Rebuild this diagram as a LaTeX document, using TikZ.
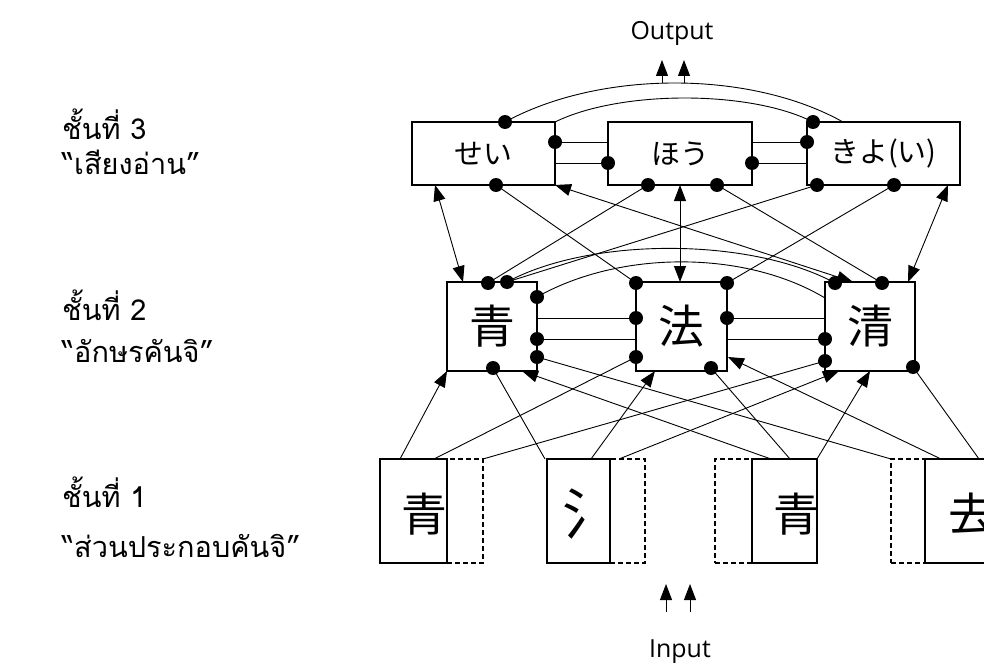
\documentclass[tikz,border=0pt]{standalone}
\usepackage{fontspec}
\newfontfamily\cjk{Noto Sans CJK JP}
\newfontfamily\thaifont[Script=Thai]{Loma}
\newfontfamily\latinsans{Open Sans}
\usetikzlibrary{arrows.meta}
\begin{document}
\begin{tikzpicture}[x=1bp,y=-1bp,
  box/.style={draw, line width=1.6bp, inner sep=0pt},
  dbox/.style={draw, line width=1.4bp, dash pattern=on 5bp off 3bp, inner sep=0pt},
  dot/.style={circle, fill=black, inner sep=0pt, minimum size=14bp},
  link/.style={line width=0.9bp},
  exc/.style={link, -{Triangle[length=16bp,width=12bp]}},
  bexc/.style={link, {Triangle[length=16bp,width=12bp]}-{Triangle[length=16bp,width=12bp]}},
  lbl/.style={anchor=base west, inner sep=0pt, font=\thaifont\fontsize{29}{32}\selectfont},
  kana/.style={font=\cjk\fontsize{29}{31}\selectfont},
  kanji/.style={font=\cjk\fontsize{46}{50}\selectfont},
  io/.style={anchor=base, inner sep=0pt, font=\latinsans\fontsize{25}{30}\selectfont}]
\useasboundingbox (0,0) rectangle (984,666);
\clip (0,0) rectangle (984,666);

% ---------- labels ----------
\node[lbl] (l3a) at (62,140) {ชั้นที่ 3};
\node[lbl] (l3b) at (62,175) {“เสียงอ่าน”};
\node[lbl] (l2a) at (62,320) {ชั้นที่ 2};
\node[lbl] (l2b) at (62,362) {“อักษรคันจิ”};
\node[lbl] (l1a) at (62,507) {ชั้นที่ 1};
\node[lbl] (l1b) at (62,557) {“ส่วนประกอบคันจิ”};
\node[io] (out) at (672,40) {Output};
\node[io] (inp) at (680,657) {Input};

% ---------- layer 3 ----------
\node[box, kana, minimum width=143bp, minimum height=63bp] (sei) at (483.5,153.5) {せい};
\node[box, kana, minimum width=144bp, minimum height=63bp] (hou) at (680,153.5) {ほう};
\node[box, kana, minimum width=153bp, minimum height=63bp] (kiyo) at (883.5,153.5) {きよ(い)};

% ---------- layer 2 ----------
\node[box, kanji, minimum width=90bp, minimum height=89bp] (ao) at (492,326.5) {青};
\node[box, kanji, minimum width=91bp, minimum height=89bp] (hoo) at (681.5,326.5) {法};
\node[box, kanji, minimum width=90bp, minimum height=89bp] (kiyoi) at (870,326.5) {清};

% ---------- layer 1 ----------
\node[dbox, minimum width=36bp, minimum height=104bp] (c1d) at (465,511) {};
\node[dbox, minimum width=35bp, minimum height=104bp] (c2d) at (627.5,511) {};
\node[dbox, minimum width=37bp, minimum height=104bp] (c3d) at (733.5,511) {};
\node[dbox, minimum width=34bp, minimum height=104bp] (c4d) at (908,511) {};
\node[box, minimum width=67bp, minimum height=104bp] (c1) at (413.5,511) {};
\node[box, minimum width=63bp, minimum height=104bp] (c2) at (578.5,511) {};
\node[box, minimum width=65bp, minimum height=104bp] (c3) at (784.5,511) {};
\node[box, minimum width=70bp, minimum height=104bp] (c4) at (960,511) {};
\node[kanji, inner sep=0pt] (t1) at (424,514) {青};
\node[font=\cjk\fontsize{56}{60}\selectfont, inner sep=0pt] (t2) at (590,514) {氵};
\node[kanji, inner sep=0pt] (t3) at (796,514) {青};
\node[kanji, inner sep=0pt] (t4) at (971,514) {去};

% ---------- coordinates ----------
\coordinate (hL1) at (608,142);
\coordinate (sR2) at (555,163);
\coordinate (hR1) at (752,142);
\coordinate (kL2) at (807,163);
\coordinate (kTop) at (843,122);
\coordinate (sCorner) at (555,122);
\coordinate (aSbl) at (435,185);
\coordinate (aSbr) at (555,185);
\coordinate (aHb) at (680,185);
\coordinate (aKbr) at (948,185);
\coordinate (aAtl) at (463,282);
\coordinate (aFt) at (680,282);
\coordinate (aQt1) at (853,282);
\coordinate (aQt2) at (908,282);
\coordinate (aR1) at (537,318);
\coordinate (fL2) at (636,339);
\coordinate (qL1) at (825,318);
\coordinate (fR2) at (727,339);
\coordinate (qL0) at (825,298);
\coordinate (aAbl) at (447,371);
\coordinate (aAbr) at (522,371);
\coordinate (aFbl) at (655,371);
\coordinate (aFr) at (728,357);
\coordinate (aQb1) at (839,371);
\coordinate (aQb2) at (870,371);
\coordinate (p1a) at (400,459);
\coordinate (p1b) at (434,459);
\coordinate (p1c) at (483,459);
\coordinate (p2a) at (545,459);
\coordinate (p2b) at (591,459);
\coordinate (p2c) at (619,459);
\coordinate (p3a) at (771,459);
\coordinate (p3b) at (790,459);
\coordinate (p3c) at (817,459);
\coordinate (p4a) at (891,459);
\coordinate (p4b) at (941,459);
\coordinate (p4c) at (979,459);
\coordinate (o1s) at (662,83.5);
\coordinate (o1e) at (662,60);
\coordinate (o2s) at (684,83.5);
\coordinate (o2e) at (684,60);
\coordinate (i1s) at (666,612);
\coordinate (i1e) at (666,584);
\coordinate (i2s) at (690,612);
\coordinate (i2e) at (690,584);

% dots (positions)
\coordinate (DStop) at (505,122);
\coordinate (DKtl) at (813,122);
\coordinate (DSr1) at (555,142);
\coordinate (DHl2) at (608,163);
\coordinate (DKl1) at (807,142);
\coordinate (DHr2) at (752,163);
\coordinate (DSb) at (496,185);
\coordinate (DHb1) at (648,185);
\coordinate (DHb2) at (717,185);
\coordinate (DKb1) at (817,185);
\coordinate (DKb2) at (894,185);
\coordinate (DAt1) at (488,283);
\coordinate (DAt2) at (507,282);
\coordinate (DFtl) at (636,283);
\coordinate (DFtr) at (727,283);
\coordinate (DQt1) at (835,283);
\coordinate (DQt2) at (882,283);
\coordinate (DAr0) at (537,297);
\coordinate (DFl1) at (636,318);
\coordinate (DAr2) at (537,339);
\coordinate (DFr1) at (727,318);
\coordinate (DQl2) at (825,339);
\coordinate (DAr3) at (537,357);
\coordinate (DFl3) at (636,357);
\coordinate (DQl3) at (825,361);
\coordinate (DAb) at (493,368);
\coordinate (DFb) at (711,368);
\coordinate (DQbr) at (913,367);

% ---------- connectors ----------
% layer 3 lateral
\draw[link] (DSr1) -- (hL1);
\draw[link] (sR2) -- (DHl2);
\draw[link] (hR1) -- (DKl1);
\draw[link] (DHr2) -- (kL2);
\draw[link] (DStop) .. controls (600,70) and (750,70) .. (kTop);
\draw[link] (sCorner) .. controls (620,90) and (750,90) .. (DKtl);
% output / input
\draw[exc] (o1s) -- (o1e);
\draw[exc] (o2s) -- (o2e);
\draw[exc] (i1s) -- (i1e);
\draw[exc] (i2s) -- (i2e);
% layer 3 - layer 2
\draw[bexc] (aSbl) -- (aAtl);
\draw[link] (DSb) -- (DFtl);
\draw[bexc] (aSbr) -- (aQt1);
\draw[link] (DHb1) -- (DAt1);
\draw[bexc] (aHb) -- (aFt);
\draw[link] (DHb2) -- (DQt2);
\draw[link] (DKb1) -- (DAt2);
\draw[link] (DKb2) -- (DFtr);
\draw[bexc] (aKbr) -- (aQt2);
% layer 2 lateral
\draw[link] (aR1) -- (DFl1);
\draw[link] (DAr2) -- (fL2);
\draw[link] (DFr1) -- (qL1);
\draw[link] (fR2) -- (DQl2);
\draw[link] (DAt2) .. controls (590,237) and (750,237) .. (DQt1);
\draw[link] (DAr0) .. controls (620,250) and (745,250) .. (qL0);
% layer 1 - layer 2
\draw[exc] (p1a) -- (aAbl);
\draw[link] (p1b) -- (DFl3);
\draw[link] (p1c) -- (DQl3);
\draw[link] (p2a) -- (DAb);
\draw[exc] (p2b) -- (aFbl);
\draw[exc] (p2c) -- (aQb1);
\draw[exc] (p3a) -- (aAbr);
\draw[link] (p3b) -- (DFb);
\draw[exc] (p3c) -- (aQb2);
\draw[link] (p4a) -- (DAr3);
\draw[exc] (p4b) -- (aFr);
\draw[link] (p4c) -- (DQbr);

% dots on top
\foreach \d in {DStop,DKtl,DSr1,DHl2,DKl1,DHr2,DSb,DHb1,DHb2,DKb1,DKb2,
  DAt1,DAt2,DFtl,DFtr,DQt1,DQt2,DAr0,DFl1,DAr2,DFr1,DQl2,DAr3,DFl3,DQl3,DAb,DFb,DQbr}
  \node[dot] (n\d) at (\d) {};
\end{tikzpicture}
\end{document}
